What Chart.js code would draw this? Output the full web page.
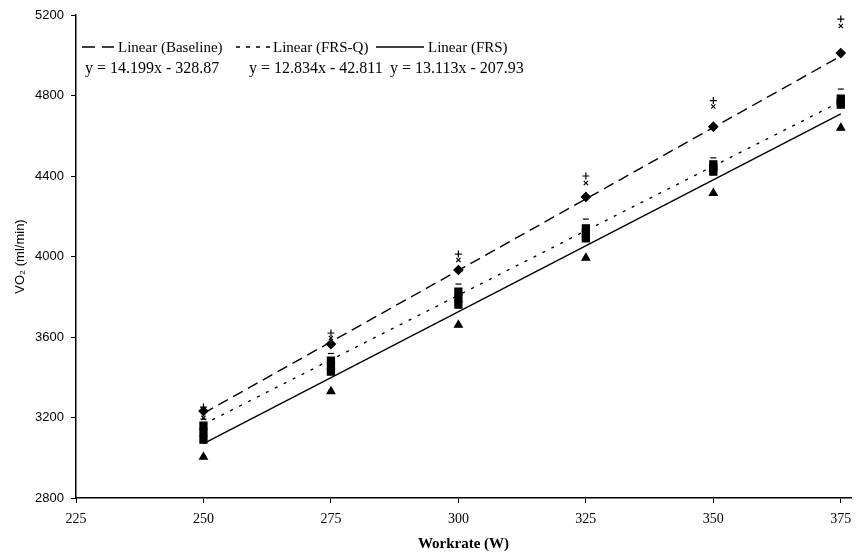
<!DOCTYPE html>
<html>
<head>
<meta charset="utf-8">
<script src="https://cdn.jsdelivr.net/npm/chart.js@4.4.1/dist/chart.umd.min.js"></script>
<style>
  html, body { margin: 0; padding: 0; background: #fff; }
  canvas { display: block; }
</style>
</head>
<body>
<canvas id="vo2Chart" width="862" height="560"></canvas>
<script>
// workrate steps (W)
const workrate = [250, 275, 300, 325, 350, 375];

// baseline: mean (diamond) and the two marks above it
const baselineMean = [3232, 3565, 3933, 4296, 4645, 5011];
const baselinePlus = [3252, 3620, 4012, 4400, 4775, 5180];
const baselineCross = [3198, 3595, 3983, 4365, 4745, 5145];

// FRS-Q: squares stacked in a column + cap on top
const frsqHigh = [3160, 3483, 3826, 4140, 4458, 4785];
const frsqMid = [3125, 3455, 3793, 4115, 4440, 4770];
const frsqLow = [3090, 3428, 3761, 4090, 4422, 4755];
const frsqCap = [3192, 3518, 3863, 4186, 4490, 4832];

// FRS: triangles
const frsValues = [3004, 3330, 3660, 3993, 4315, 4639];

// trend lines, read at both ends
const trendX = [250, 375];
const baselineFit = [3221, 4996];
const frsqFit = [3166, 4770];
const frsFit = [3070, 4709];

const legendLabels = ['Linear (Baseline)', 'Linear (FRS-Q)', 'Linear (FRS)'];
const fitEquations = ['y = 14.199x - 328.87', 'y = 12.834x - 42.811', 'y = 13.113x - 207.93'];

const xTicks = [225, 250, 275, 300, 325, 350, 375];
const yTicks = [2800, 3200, 3600, 4000, 4400, 4800, 5200];

const pts = (xs, ys) => xs.map((x, i) => ({x: x, y: ys[i]}));

function markers(ys, style, radius, filled) {
    return {
        type: 'scatter',
        data: pts(workrate, ys),
        pointStyle: style,
        pointRadius: radius,
        pointHoverRadius: radius,
        borderColor: '#000',
        backgroundColor: filled ? '#000' : '#fff',
        borderWidth: 1.2,
        showLine: false
    };
}

function trend(ys, dash) {
    return {
        type: 'line',
        data: pts(trendX, ys),
        borderColor: '#000',
        borderWidth: 1.4,
        borderDash: dash,
        pointRadius: 0,
        fill: false,
        tension: 0
    };
}

// legend + equations drawn by hand (line samples and text)
const trendLegend = {
    id: 'trendLegend',
    afterDraw(chart) {
        const ctx = chart.ctx;
        const dashes = [[13, 7], [4, 6], []];
        const lineX = [[82, 114], [236, 271], [376, 424]];
        const textX = [118, 273, 428];
        const eqX = [85, 249, 390];
        ctx.save();
        ctx.fillStyle = '#000';
        ctx.strokeStyle = '#000';
        ctx.lineWidth = 1.4;
        ctx.textBaseline = 'middle';
        ctx.font = "15px 'Liberation Serif', serif";
        for (let i = 0; i < legendLabels.length; i++) {
            ctx.setLineDash(dashes[i]);
            ctx.beginPath();
            ctx.moveTo(lineX[i][0], 47);
            ctx.lineTo(lineX[i][1], 47);
            ctx.stroke();
            ctx.fillText(legendLabels[i], textX[i], 48);
        }
        ctx.setLineDash([]);
        ctx.font = "16px 'Liberation Serif', serif";
        for (let i = 0; i < fitEquations.length; i++) {
            ctx.fillText(fitEquations[i], eqX[i], 69);
        }
        ctx.restore();
    }
};

const ctx = document.getElementById('vo2Chart').getContext('2d');
new Chart(ctx, {
    type: 'scatter',
    data: {
        datasets: [
            trend(baselineFit, [11, 6]),
            trend(frsqFit, [3, 7]),
            trend(frsFit, []),
            markers(baselinePlus, 'cross', 3.5, false),
            markers(baselineCross, 'crossRot', 3, false),
            markers(baselineMean, 'rectRot', 4.5, true),
            markers(frsqHigh, 'rect', 5, true),
            markers(frsqMid, 'rect', 5, true),
            markers(frsqLow, 'rect', 5, true),
            markers(frsqCap, 'line', 3, false),
            markers(frsValues, 'triangle', 4.5, true)
        ]
    },
    options: {
        responsive: false,
        animation: false,
        layout: {padding: {top: 15, right: 11, left: 0, bottom: 0}},
        plugins: {
            legend: {display: false},
            tooltip: {enabled: false}
        },
        scales: {
            x: {
                type: 'linear',
                min: 225,
                max: 377,
                afterBuildTicks: axis => { axis.ticks = xTicks.map(v => ({value: v})); },
                afterFit: axis => { axis.height = 62; },
                grid: {drawOnChartArea: false, drawTicks: true, tickLength: 5, color: '#000'},
                border: {color: '#000', width: 1.5},
                ticks: {
                    color: '#000',
                    padding: 8,
                    maxRotation: 0,
                    callback: v => String(v),
                    font: {family: "'Liberation Serif', serif", size: 14}
                },
                title: {
                    display: true,
                    text: 'Workrate (W)',
                    color: '#000',
                    padding: {top: 0, bottom: 7},
                    font: {family: "'Liberation Serif', serif", size: 15, weight: 'bold'}
                }
            },
            y: {
                min: 2800,
                max: 5200,
                afterBuildTicks: axis => { axis.ticks = yTicks.map(v => ({value: v})); },
                afterFit: axis => { axis.width = 76; },
                grid: {drawOnChartArea: false, drawTicks: true, tickLength: 5, color: '#000'},
                border: {color: '#000', width: 1.5},
                ticks: {
                    color: '#000',
                    padding: 7,
                    callback: v => String(v),
                    font: {family: "'Liberation Sans', Arial, sans-serif", size: 13}
                },
                title: {
                    display: true,
                    text: 'VO\u2082 (ml/min)',
                    color: '#000',
                    padding: {top: 13, bottom: 0},
                    font: {family: "'Liberation Sans', Arial, sans-serif", size: 13}
                }
            }
        }
    },
    plugins: [trendLegend]
});
</script>
</body>
</html>
